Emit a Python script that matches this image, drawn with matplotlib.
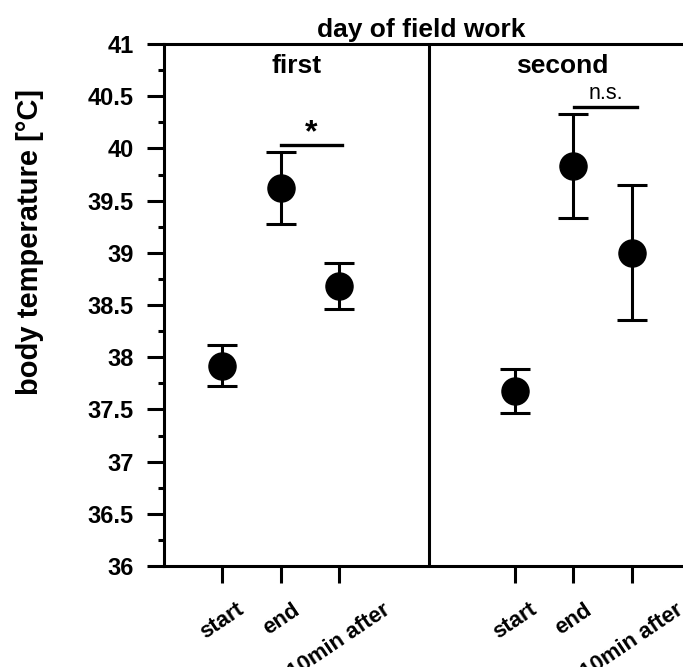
import matplotlib
matplotlib.use("Agg")
import matplotlib.pyplot as plt
from matplotlib.ticker import MultipleLocator

plt.rcParams['font.family'] = ['Liberation Sans', 'DejaVu Sans']
plt.rcParams['font.weight'] = 'bold'

conditions = ['start', 'end', '10min after']
days = ['first', 'second']
first_mean = [37.92, 39.62, 38.68]
first_sd = [0.20, 0.345, 0.22]
second_mean = [37.68, 39.83, 39.00]
second_sd = [0.21, 0.495, 0.645]
first_x = [1, 2, 3]
second_x = [6, 7, 8]
ytick_labels = ['36', '36.5', '37', '37.5', '38', '38.5', '39', '39.5', '40', '40.5', '41']

fig = plt.figure(figsize=(6.83, 6.67), dpi=100)
ax = fig.add_axes([0.2401, 0.1514, 0.776, 0.7826])

lw = 2.2
for xs, m, sd in [(first_x, first_mean, first_sd), (second_x, second_mean, second_sd)]:
    ax.errorbar(xs, m, yerr=sd, fmt='o', color='black', ms=19.5,
                elinewidth=lw, capsize=10.5, capthick=lw, zorder=3)

ax.axvline(4.53, color='black', lw=lw)

# significance bars
ax.plot([2, 3.05], [40.03, 40.03], color='black', lw=2.4)
ax.text(2.52, 40.0, '*', ha='center', va='bottom', fontsize=23, fontweight='bold')
ax.plot([7.01, 8.09], [40.40, 40.40], color='black', lw=2.4)
ax.text(7.55, 40.43, 'n.s.', ha='center', va='bottom', fontsize=15.5, fontweight='normal')

# day labels
ax.text(2.27, 40.72, days[0], ha='center', va='baseline', fontsize=19, fontweight='bold')
ax.text(6.8, 40.72, days[1], ha='center', va='baseline', fontsize=19, fontweight='bold')

ax.set_xlim(0, 9.06)
ax.set_ylim(36, 41)
ax.spines['right'].set_visible(False)
for s in ['left', 'bottom', 'top']:
    ax.spines[s].set_linewidth(lw)

ax.set_yticks([36 + 0.5 * i for i in range(11)])
ax.set_yticklabels(ytick_labels)
ax.yaxis.set_minor_locator(MultipleLocator(0.25))
ax.tick_params(axis='y', which='major', length=12, width=lw, labelsize=17, pad=10)
ax.tick_params(axis='y', which='minor', length=4.5, width=lw)

ax.set_xticks(first_x + second_x)
ax.set_xticklabels(conditions + conditions, rotation=34, ha='center', fontsize=16, fontweight='bold')
ax.tick_params(axis='x', length=12, width=lw, pad=12)

fig.text(30 / 683, 1 - 242 / 667, 'body temperature [°C]', rotation=90,
         ha='center', va='center', fontsize=21, fontweight='bold')
fig.text(421 / 683, 1 - 30 / 667, 'day of field work', ha='center', va='center',
         fontsize=19, fontweight='bold')

fig.savefig('out.png', dpi=100)
